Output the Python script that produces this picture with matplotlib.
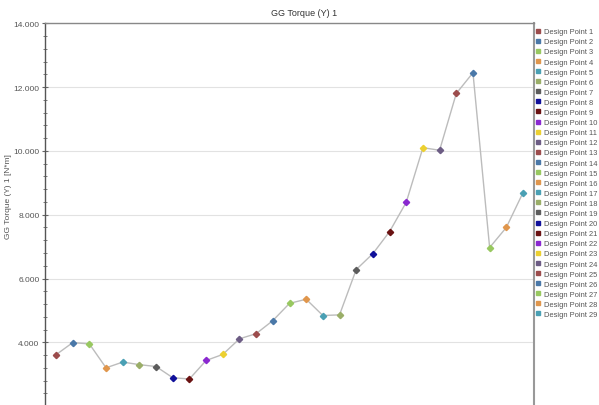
import matplotlib
matplotlib.use('Agg')
import matplotlib.pyplot as plt
from matplotlib.ticker import MultipleLocator, FormatStrFormatter

plt.rcParams['font.family'] = ['Liberation Sans', 'DejaVu Sans']

# Messpunkte
punkte = list(range(1, 30))
drehmoment = [3.61, 3.99, 3.95, 3.20, 3.38, 3.30, 3.24, 2.89, 2.85, 3.43,
              3.62, 4.11, 4.27, 4.68, 5.22, 5.35, 4.84, 4.86, 6.28, 6.78,
              7.47, 8.39, 10.10, 10.02, 11.80, 12.45, 6.97, 7.60, 8.69]
namen = ['Design Point %d' % p for p in punkte]

# Farbpalette wiederholt sich alle 12 Punkte
palette = ['#9c4c4c', '#4a78a8', '#98c860', '#e0964c', '#4aa0b4', '#9aae68',
           '#5c5c5c', '#10109a', '#6a1212', '#8a28d0', '#ecd030', '#6c5c84']
farben = [palette[i % len(palette)] for i in range(len(punkte))]

fig = plt.figure(figsize=(5.99, 4.06), dpi=100)
H = 406.0
W = 599.0
top_px = 24.3
px_pro_einheit = 31.9
ymin, ymax = 1.6, 14.0
hoehe = (ymax - ymin) * px_pro_einheit
ax = fig.add_axes([45 / W, 1 - (top_px + hoehe) / H, (534 - 45) / W, hoehe / H])

ax.plot(punkte, drehmoment, color='#bcbcbc', lw=1.0, zorder=2)
for p, v, c, n in zip(punkte, drehmoment, farben, namen):
    ax.plot(p, v, marker='D', ms=3.2, color=c, mec=c, ls='none', label=n, zorder=3)

ax.set_xlim(0.34, 29.66)
ax.set_ylim(ymin, ymax)
ax.yaxis.set_major_locator(MultipleLocator(2))
ax.yaxis.set_minor_locator(MultipleLocator(0.4))
ax.yaxis.set_major_formatter(FormatStrFormatter('%.3f'))
ax.set_xticks([])
ax.tick_params(axis='y', which='major', direction='inout', length=4, width=0.8,
               colors='#666666', labelsize=6, labelcolor='#555555', pad=2)
ax.tick_params(axis='y', which='minor', direction='inout', length=3, width=0.6,
               colors='#666666')
ax.grid(axis='y', which='major', color='#e2e2e2', lw=0.8)
ax.set_axisbelow(True)

ax.spines['left'].set_color('#555555')
ax.spines['left'].set_linewidth(1.0)
ax.spines['top'].set_color('#888888')
ax.spines['top'].set_linewidth(1.0)
ax.spines['right'].set_color('#999999')
ax.spines['right'].set_linewidth(1.5)
ax.spines['bottom'].set_visible(False)

fig.text(0.507, 1 - 14 / H, 'GG Torque (Y) 1', ha='center', va='center',
         fontsize=6.5, color='#333333')
fig.text(9 / W, 1 - 197 / H, 'GG Torque (Y) 1 [N*m]', rotation=90,
         ha='center', va='center', fontsize=6, color='#555555')

leg = ax.legend(loc='upper left', bbox_to_anchor=(536 / W, 1 - 29 / H),
                bbox_transform=fig.transFigure, frameon=False, fontsize=5.4,
                handlelength=0.6, handletextpad=0.5, labelspacing=0.38,
                borderaxespad=0, borderpad=0, markerscale=1.1)
for h in leg.legend_handles:
    h.set_marker('s')
for t in leg.get_texts():
    t.set_color('#555555')

fig.savefig('out.png', dpi=100)
